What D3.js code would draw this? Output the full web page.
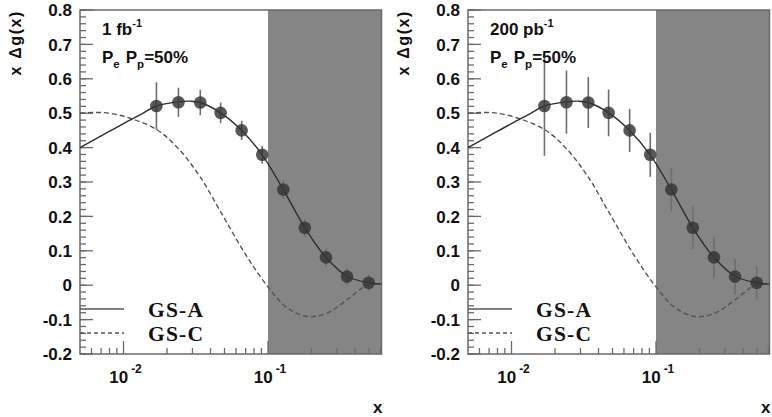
<!DOCTYPE html>
<html><head><meta charset="utf-8">
<script src="https://cdn.jsdelivr.net/npm/d3@7"></script>
<style>body{margin:0;background:#fff}svg{display:block}</style>
</head><body>
<svg id="chart" width="772" height="417"></svg>
<script>
// ---- data ----
const xPoints  = [0.0169, 0.0240, 0.0340, 0.0470, 0.0657, 0.0912, 0.1276, 0.1798, 0.2517, 0.3523, 0.4975];
const yPoints  = [0.521, 0.532, 0.531, 0.501, 0.450, 0.379, 0.278, 0.167, 0.081, 0.025, 0.007];
const err1fb   = [0.069, 0.042, 0.037, 0.030, 0.028, 0.026, 0.027, 0.026, 0.026, 0.025, 0.024];
const err200pb = [0.145, 0.092, 0.074, 0.068, 0.063, 0.064, 0.063, 0.062, 0.060, 0.052, 0.048];

const gsaX = [0.005, 0.007, 0.01, 0.0135, 0.0169, 0.024, 0.029, 0.034, 0.047, 0.0657, 0.0912, 0.1276, 0.1798, 0.2517, 0.3523, 0.4975, 0.61];
const gsaY = [0.400, 0.434, 0.470, 0.499, 0.521, 0.533, 0.535, 0.531, 0.501, 0.450, 0.379, 0.278, 0.167, 0.081, 0.026, 0.007, 0.003];

const gscX = [0.005, 0.0065, 0.008, 0.011, 0.017, 0.024, 0.034, 0.049, 0.071, 0.1, 0.135, 0.186, 0.257, 0.353, 0.486, 0.61];
const gscY = [0.500, 0.502, 0.500, 0.486, 0.452, 0.397, 0.314, 0.200, 0.085, -0.005, -0.065, -0.091, -0.081, -0.042, 0.000, 0.003];

const yMajorTicks = [-0.2, -0.1, 0, 0.1, 0.2, 0.3, 0.4, 0.5, 0.6, 0.7, 0.8];
const yTickLabels = ["-0.2", "-0.1", "0", "0.1", "0.2", "0.3", "0.4", "0.5", "0.6", "0.7", "0.8"];
const xMajorTicks = [0.01, 0.1];
const xTickExponents = ["-2", "-1"];
const xMinorTicks = [0.006, 0.007, 0.008, 0.009, 0.02, 0.03, 0.04, 0.05, 0.06, 0.07, 0.08, 0.09, 0.2, 0.3, 0.4, 0.5, 0.6];
const lumiLabels = ["1 fb", "200 pb"];
const polLabel = "=50%";
const legendLabels = ["GS-A", "GS-C"];
const shadeStart = 0.1;
const xDomain = [0.005, 0.61];
const yDomain = [-0.2, 0.8];

// ---- drawing ----
const svg = d3.select("#chart");
const defs = svg.append("defs");
const axisColor = "#6a6a6a";
const sans = "'Liberation Sans', Arial, Helvetica, sans-serif";
const serif = "'Liberation Serif', 'Times New Roman', serif";

function drawPanel(ox, errs, lumi, idx) {
  const left = ox, right = ox + 301.5, top = 10, bottom = 354;
  const x = d3.scaleLog().domain(xDomain).range([left, right]);
  const y = d3.scaleLinear().domain(yDomain).range([bottom, top]);
  const g = svg.append("g");

  defs.append("clipPath").attr("id", "clip" + idx)
    .append("rect").attr("x", left).attr("y", top).attr("width", right - left).attr("height", bottom - top);

  // shaded region
  g.append("rect")
    .attr("x", x(shadeStart)).attr("y", top)
    .attr("width", right - x(shadeStart)).attr("height", bottom - top)
    .attr("fill", "#858585");

  // frame
  g.append("rect").attr("x", left).attr("y", top).attr("width", right - left).attr("height", bottom - top)
    .attr("fill", "none").attr("stroke", axisColor).attr("stroke-width", 1.5);

  // y ticks
  const yMinor = d3.range(-0.2, 0.8001, 0.02);
  g.selectAll(".ymin").data(yMinor).enter().append("line")
    .attr("x1", left).attr("x2", left + 6)
    .attr("y1", d => y(d)).attr("y2", d => y(d))
    .attr("stroke", axisColor).attr("stroke-width", 1.3);
  g.selectAll(".ymaj").data(yMajorTicks).enter().append("line")
    .attr("x1", left).attr("x2", left + 13)
    .attr("y1", d => y(d)).attr("y2", d => y(d))
    .attr("stroke", axisColor).attr("stroke-width", 1.3);
  g.selectAll(".ylab").data(yMajorTicks).enter().append("text")
    .attr("x", left - 8).attr("y", d => y(d)).attr("dy", "0.36em")
    .attr("text-anchor", "end").attr("font-family", sans).attr("font-weight", "bold")
    .attr("font-size", 17).attr("fill", "#111")
    .text((d, i) => yTickLabels[i]);

  // x ticks
  g.selectAll(".xmin").data(xMinorTicks).enter().append("line")
    .attr("x1", d => x(d)).attr("x2", d => x(d))
    .attr("y1", bottom).attr("y2", bottom - 6)
    .attr("stroke", axisColor).attr("stroke-width", 1.3);
  g.selectAll(".xmaj").data(xMajorTicks).enter().append("line")
    .attr("x1", d => x(d)).attr("x2", d => x(d))
    .attr("y1", bottom).attr("y2", bottom - 13)
    .attr("stroke", axisColor).attr("stroke-width", 1.3);
  const xl = g.selectAll(".xlab").data(xMajorTicks).enter().append("text")
    .attr("x", d => x(d) + 2).attr("y", 383)
    .attr("text-anchor", "middle").attr("font-family", sans).attr("font-weight", "bold")
    .attr("font-size", 17).attr("fill", "#111");
  xl.append("tspan").text("10");
  xl.append("tspan").attr("dx", 3).attr("dy", -10).attr("font-size", 12).text((d, i) => xTickExponents[i]);

  // axis titles
  g.append("text")
    .attr("transform", `translate(${ox - 59},${top}) rotate(-90)`)
    .attr("text-anchor", "end").attr("font-family", sans).attr("font-weight", "bold")
    .attr("font-size", 16).attr("letter-spacing", 1.6).attr("fill", "#111")
    .text("x \u0394g(x)");
  g.append("text").attr("x", right + 1).attr("y", 413)
    .attr("text-anchor", "end").attr("font-family", sans).attr("font-weight", "bold")
    .attr("font-size", 17).attr("fill", "#111").text("x");

  // curves
  const line = d3.line().x(d => x(d[0])).y(d => y(d[1])).curve(d3.curveCatmullRom.alpha(0.5));
  const cg = g.append("g").attr("clip-path", `url(#clip${idx})`);
  cg.append("path").datum(gscX.map((v, i) => [v, gscY[i]]))
    .attr("d", line).attr("fill", "none").attr("stroke", "#555")
    .attr("stroke-width", 1.4).attr("stroke-dasharray", "5,3");
  cg.append("path").datum(gsaX.map((v, i) => [v, gsaY[i]]))
    .attr("d", line).attr("fill", "none").attr("stroke", "#2e2e2e")
    .attr("stroke-width", 1.4);

  // data points
  const pts = xPoints.map((v, i) => ({x: v, y: yPoints[i], e: errs[i]}));
  cg.selectAll(".eb").data(pts).enter().append("line")
    .attr("x1", d => x(d.x)).attr("x2", d => x(d.x))
    .attr("y1", d => y(d.y + d.e)).attr("y2", d => y(d.y - d.e))
    .attr("stroke", "#6e6e6e").attr("stroke-width", 1.6);
  cg.selectAll(".pt").data(pts).enter().append("circle")
    .attr("cx", d => x(d.x)).attr("cy", d => y(d.y)).attr("r", 6.3)
    .attr("fill", "#333").attr("fill-opacity", 0.82);

  // annotations
  const t1 = g.append("text").attr("x", left + 22).attr("y", 35)
    .attr("font-family", sans).attr("font-weight", "bold").attr("font-size", 17).attr("fill", "#111");
  t1.append("tspan").text(lumi);
  t1.append("tspan").attr("dy", -8).attr("font-size", 11).text("-1");
  const t2 = g.append("text").attr("x", left + 22).attr("y", 63)
    .attr("font-family", sans).attr("font-weight", "bold").attr("font-size", 17).attr("fill", "#111");
  t2.append("tspan").text("P");
  t2.append("tspan").attr("dy", 5).attr("font-size", 11.5).text("e");
  t2.append("tspan").attr("dy", -5).attr("dx", 6).text("P");
  t2.append("tspan").attr("dy", 5).attr("font-size", 11.5).text("p");
  t2.append("tspan").attr("dy", -5).text(polLabel);

  // legend
  const legY = [309, 333];
  g.append("line").attr("x1", left).attr("x2", left + 44).attr("y1", legY[0]).attr("y2", legY[0])
    .attr("stroke", "#555").attr("stroke-width", 1.4);
  g.append("line").attr("x1", left).attr("x2", left + 44).attr("y1", legY[1]).attr("y2", legY[1])
    .attr("stroke", "#555").attr("stroke-width", 1.4).attr("stroke-dasharray", "4,3");
  legendLabels.forEach((lab, i) => {
    g.append("text").attr("x", left + 68).attr("y", legY[i] + 8)
      .attr("font-family", serif).attr("font-weight", "bold").attr("font-size", 21.5)
      .attr("letter-spacing", 1.2).attr("fill", "#111").text(lab);
  });
}

drawPanel(80, err1fb, lumiLabels[0], 0);
drawPanel(468, err200pb, lumiLabels[1], 1);
</script>
</body></html>
